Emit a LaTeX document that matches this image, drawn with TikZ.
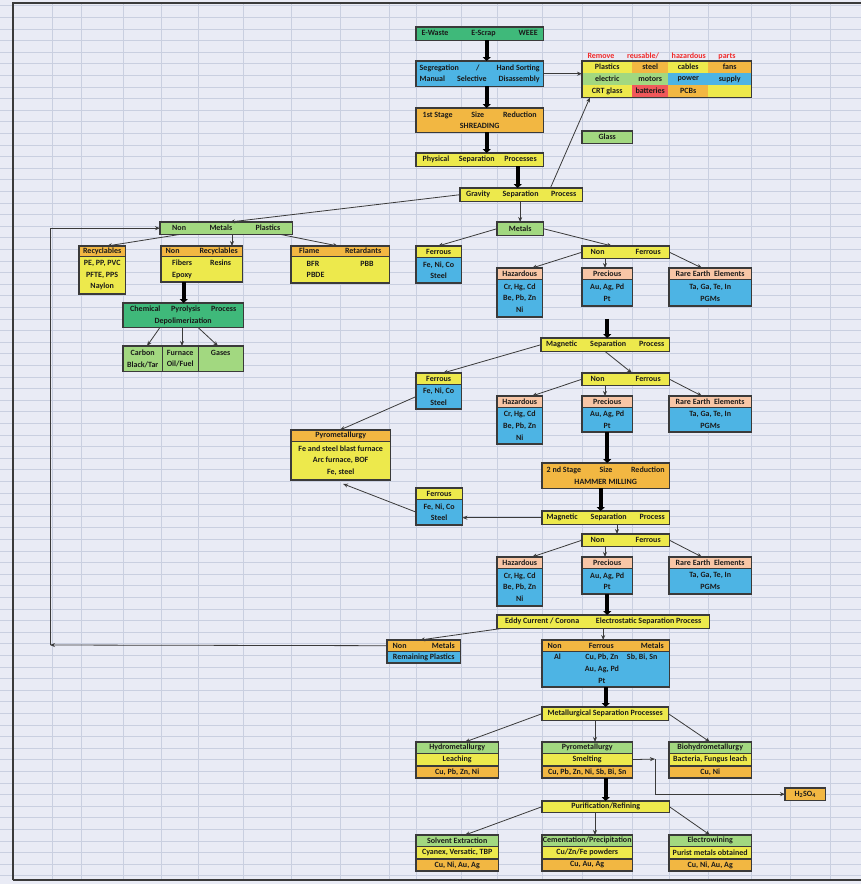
\documentclass[tikz,border=0pt]{standalone}
\usepackage{fontspec}
\setmainfont{Carlito}
\usetikzlibrary{positioning,arrows.meta}

\definecolor{sheet}{HTML}{E9EBF5}
\definecolor{gridc}{HTML}{C9CFE0}
\definecolor{edge}{HTML}{3A3A3A}
\definecolor{ink}{HTML}{1A1A1A}
\definecolor{cgreen}{HTML}{3FB97A}
\definecolor{lgreen}{HTML}{A2D880}
\definecolor{cblue}{HTML}{4DB4E4}
\definecolor{corange}{HTML}{F2B742}
\definecolor{cyellow}{HTML}{EDE94C}
\definecolor{cpeach}{HTML}{F8C6A6}
\definecolor{cred}{HTML}{F0585A}
\definecolor{redtxt}{HTML}{F02A2A}

\begin{document}
\begin{tikzpicture}[x=1pt, y=-1pt,
    cell/.style={draw=edge, line width=0.4pt, anchor=north west, inner sep=0pt, align=center,
                 text=ink, font=\fontsize{8}{11.7}\selectfont\bfseries},
    wh/.style 2 args={minimum width=#1pt, minimum height=#2pt},
    rim/.style={draw=edge, line width=1.6pt},
    link/.style={draw=edge, line width=0.8pt, -{Stealth[length=5pt, width=4pt]}},
    pipe/.style={line width=4pt, -{Triangle[length=4pt, width=8pt]}}]

    % sheet and cell grid
    \useasboundingbox (0,0) rectangle (861,884);
    \fill[sheet] (0,0) rectangle (861,884);
    \foreach \y in {5.7,17.3,...,884}
        \draw[gridc, line width=0.6pt] (0,\y) -- (861,\y);
    \foreach \x in {52,81,123,161,198,243,291,340,389,416,461,497,542,582,632,669,708,751,790,830}
        \draw[gridc, line width=0.8pt] (\x,3) -- (\x,880);
    \draw[edge, line width=2pt] (13,880) -- (13,3) -- (861,3);
    \draw[edge, line width=2pt] (13,880) -- (861,880);

    % input and pre-treatment
    \node[cell, wh={127}{13}, fill=cgreen] (ewaste) at (416,27) {\makebox[116pt]{E-Waste\hfill E-Scrap\hfill WEEE}};
    \node[cell, wh={127}{25}, fill=cblue] (segr) at (416,61)
        {\makebox[120pt]{Segregation\hfill /\hfill Hand Sorting}\\ \makebox[120pt]{Manual\hfill Selective\hfill Disassembly}};
    \node[cell, wh={127}{24}, fill=corange] (shred) at (416,108) {\makebox[114pt]{1st Stage\hfill Size\hfill Reduction}\\ SHREADING};
    \node[cell, wh={127}{13}, fill=cyellow] (phys) at (416,153) {\makebox[114pt]{Physical\hfill Separation\hfill Processes}};
    \node[cell, wh={122}{13}, fill=cyellow] (grav) at (460,188) {\makebox[110pt]{Gravity\hfill Separation\hfill Process}};

    % parts taken out by hand
    \node[anchor=west, text=redtxt, font=\fontsize{8}{9}\selectfont\bfseries] (rmhead) at (584,56)
        {\makebox[148pt]{Remove\hfill reusable/\hfill hazardous\hfill parts}};
    \foreach \x/\w/\t/\f [count=\c] in {582/50/Plastics/cyellow, 632/36/steel/corange, 668/40/cables/cyellow, 708/43/fans/corange}
        \node[cell, draw=none, fill=\f, wh={\w}{12}] (rmA\c) at (\x,61) {\t};
    \foreach \x/\w/\t/\f [count=\c] in {582/50/electric/lgreen, 632/36/motors/lgreen, 668/40/power/cblue, 708/43/supply/cblue}
        \node[cell, draw=none, fill=\f, wh={\w}{12}] (rmB\c) at (\x,73) {\t};
    \foreach \x/\w/\t/\f [count=\c] in {582/50/CRT glass/cyellow, 632/36/batteries/cred, 668/40/PCBs/corange, 708/43/{}/cyellow}
        \node[cell, draw=none, fill=\f, wh={\w}{12}] (rmC\c) at (\x,85) {\t};
    \node[cell, wh={50}{12}, fill=lgreen] (glass) at (582,131) {Glass};

    % non metals branch
    \node[cell, wh={132}{12}, fill=lgreen] (nmp) at (160,222) {\makebox[108pt]{Non\hfill Metals\hfill Plastics}};
    \node[cell, wh={46}{10}, fill=corange] (recyc) at (79,246) {Recyclables};
    \node[cell, wh={46}{37}, fill=cyellow] (recycb) at (recyc.south west) {PE, PP, PVC\\PFTE, PPS\\Naylon};
    \node[cell, wh={81}{10}, fill=corange] (nonrec) at (161,246) {\makebox[72pt]{Non\hfill Recyclables}};
    \node[cell, wh={81}{25}, fill=cyellow] (nonrecb) at (nonrec.south west)
        {\begin{tabular}{@{}l@{\hspace{18pt}}l@{}}Fibers & Resins\\ Epoxy & \end{tabular}};
    \node[cell, wh={98}{10}, fill=corange] (flame) at (291,246) {\makebox[82pt]{Flame\hfill Retardants}};
    \node[cell, wh={98}{26}, fill=cyellow] (flameb) at (flame.south west)
        {\begin{tabular}{@{}l@{\hspace{36pt}}l@{}}BFR & PBB\\ PBDE & \end{tabular}};
    \node[cell, wh={120}{24}, fill=cgreen] (pyrol) at (123,303)
        {\makebox[106pt]{Chemical\hfill Pyrolysis\hfill Process}\\ Depolimerization};
    \node[cell, wh={39}{25}, fill=lgreen] (carbon) at (123,346) {Carbon\\Black/Tar};
    \node[cell, wh={36}{25}, fill=lgreen] (furnace) at (162,346) {Furnace\\Oil/Fuel};
    \node[cell, wh={45}{25}, fill=lgreen] (gases) at (198,346) {Gases\\~};

    % metals, first pass
    \node[cell, wh={46}{13}, fill=lgreen] (metals) at (497,222) {Metals};
    \node[cell, wh={45}{11}, fill=cyellow] (ferr1) at (416,246) {Ferrous};
    \node[cell, wh={45}{25}, fill=cblue] (ferr1b) at (ferr1.south west) {Fe, Ni, Co\\Steel};
    \node[cell, wh={87}{12}, fill=cyellow] (nonfer1) at (582,246) {\makebox[70pt]{Non\hfill Ferrous}};
    \node[cell, wh={45}{11}, fill=cpeach] (haz1) at (497,268) {Hazardous};
    \node[cell, wh={45}{37}, fill=cblue] (haz1b) at (haz1.south west) {Cr, Hg, Cd\\Be, Pb, Zn\\Ni};
    \node[cell, wh={50}{11}, fill=cpeach] (prec1) at (582,268) {Precious};
    \node[cell, wh={50}{26}, fill=cblue] (prec1b) at (prec1.south west) {Au, Ag, Pd\\Pt};
    \node[cell, wh={82}{11}, fill=cpeach] (rare1) at (669,268) {Rare Earth\ \ Elements};
    \node[cell, wh={82}{26}, fill=cblue] (rare1b) at (rare1.south west) {Ta, Ga, Te, In\\PGMs};

    % magnetic separation, first pass
    \node[cell, wh={128}{13}, fill=cyellow] (mag1) at (541,338) {\makebox[118pt]{Magnetic\hfill Separation\hfill Process}};
    \node[cell, wh={45}{11}, fill=cyellow] (ferr2) at (416,373) {Ferrous};
    \node[cell, wh={45}{24}, fill=cblue] (ferr2b) at (ferr2.south west) {Fe, Ni, Co\\Steel};
    \node[cell, wh={87}{12}, fill=cyellow] (nonfer2) at (582,373) {\makebox[70pt]{Non\hfill Ferrous}};
    \node[cell, wh={45}{11}, fill=cpeach] (haz2) at (497,396) {Hazardous};
    \node[cell, wh={45}{36}, fill=cblue] (haz2b) at (haz2.south west) {Cr, Hg, Cd\\Be, Pb, Zn\\Ni};
    \node[cell, wh={50}{11}, fill=cpeach] (prec2) at (582,396) {Precious};
    \node[cell, wh={50}{24}, fill=cblue] (prec2b) at (prec2.south west) {Au, Ag, Pd\\Pt};
    \node[cell, wh={82}{11}, fill=cpeach] (rare2) at (669,396) {Rare Earth\ \ Elements};
    \node[cell, wh={82}{24}, fill=cblue] (rare2b) at (rare2.south west) {Ta, Ga, Te, In\\PGMs};
    \node[cell, wh={99}{11}, fill=corange] (pyro1) at (291,430) {Pyrometallurgy};
    \node[cell, wh={99}{38}, fill=cyellow] (pyro1b) at (pyro1.south west)
        {Fe and steel blast furnace\\Arc furnace, BOF\\Fe, steel};

    % second size reduction and magnetic pass
    \node[cell, wh={127}{25}, fill=corange] (hammer) at (542,463)
        {\makebox[118pt]{2 nd Stage\hfill Size\hfill Reduction}\\ HAMMER MILLING};
    \node[cell, wh={127}{13}, fill=cyellow] (mag2) at (542,511) {\makebox[118pt]{Magnetic\hfill Separation\hfill Process}};
    \node[cell, wh={46}{11}, fill=cyellow] (ferr3) at (416,488) {Ferrous};
    \node[cell, wh={46}{25}, fill=cblue] (ferr3b) at (ferr3.south west) {Fe, Ni, Co\\Steel};
    \node[cell, wh={87}{12}, fill=cyellow] (nonfer3) at (582,534) {\makebox[70pt]{Non\hfill Ferrous}};
    \node[cell, wh={45}{11}, fill=cpeach] (haz3) at (497,557) {Hazardous};
    \node[cell, wh={45}{37}, fill=cblue] (haz3b) at (haz3.south west) {Cr, Hg, Cd\\Be, Pb, Zn\\Ni};
    \node[cell, wh={50}{11}, fill=cpeach] (prec3) at (582,557) {Precious};
    \node[cell, wh={50}{25}, fill=cblue] (prec3b) at (prec3.south west) {Au, Ag, Pd\\Pt};
    \node[cell, wh={82}{11}, fill=cpeach] (rare3) at (669,557) {Rare Earth\ \ Elements};
    \node[cell, wh={82}{25}, fill=cblue] (rare3b) at (rare3.south west) {Ta, Ga, Te, In\\PGMs};

    % eddy current stage
    \node[cell, wh={212}{13}, fill=cyellow] (eddy) at (497,615)
        {\makebox[196pt]{Eddy Current / Corona\hfill Electrostatic Separation Process}};
    \node[cell, wh={73}{11}, fill=corange] (nmrem) at (387,640) {\makebox[62pt]{Non\hfill Metals}};
    \node[cell, wh={73}{11}, fill=cblue] (nmremb) at (nmrem.south west) {Remaining Plastics};
    \node[cell, wh={127}{11}, fill=corange] (nfm) at (542,640) {\makebox[116pt]{Non\hfill Ferrous\hfill Metals}};
    \node[cell, wh={127}{34}, fill=cblue] (nfmb) at (nfm.south west)
        {\begin{tabular}{@{}l@{\hspace{24pt}}c@{\hspace{8pt}}c@{}}Al & Cu, Pb, Zn & Sb, Bi, Sn\\ & Au, Ag, Pd & \\ & Pt & \end{tabular}};

    % metallurgical routes
    \node[cell, wh={126}{13}, fill=cyellow] (metsep) at (542,707) {Metallurgical Separation Processes};
    \node[cell, wh={82}{11}, fill=lgreen] (hydro) at (416,742) {Hydrometallurgy};
    \node[cell, wh={82}{12}, fill=cyellow] (hydrob) at (hydro.south west) {Leaching};
    \node[cell, wh={82}{12}, fill=corange] (hydroc) at (hydrob.south west) {Cu, Pb, Zn, Ni};
    \node[cell, wh={90}{11}, fill=lgreen] (pyro2) at (542,742) {Pyrometallurgy};
    \node[cell, wh={90}{12}, fill=cyellow] (pyro2b) at (pyro2.south west) {Smelting};
    \node[cell, wh={90}{12}, fill=corange] (pyro2c) at (pyro2b.south west) {Cu, Pb, Zn, Ni, Sb, Bi, Sn};
    \node[cell, wh={82}{11}, fill=lgreen] (bio) at (669,742) {Biohydrometallurgy};
    \node[cell, wh={82}{12}, fill=cyellow] (biob) at (bio.south west) {Bacteria, Fungus leach};
    \node[cell, wh={82}{12}, fill=corange] (bioc) at (biob.south west) {Cu, Ni};
    \node[cell, wh={40}{12}, fill=corange] (h2so4) at (785,788) {H\textsubscript{2}SO\textsubscript{4}};

    % refining
    \node[cell, wh={127}{11}, fill=cyellow] (purif) at (542,801) {Purification/Refining};
    \node[cell, wh={82}{11}, fill=lgreen] (solv) at (416,835) {Solvent Extraction};
    \node[cell, wh={82}{12}, fill=cyellow] (solvb) at (solv.south west) {Cyanex, Versatic, TBP};
    \node[cell, wh={82}{12}, fill=corange] (solvc) at (solvb.south west) {Cu, Ni, Au, Ag};
    \node[cell, wh={90}{11}, fill=lgreen] (cement) at (542,835) {Cementation/Precipitation};
    \node[cell, wh={90}{12}, fill=cyellow] (cementb) at (cement.south west) {Cu/Zn/Fe powders};
    \node[cell, wh={90}{12}, fill=corange] (cementc) at (cementb.south west) {Cu, Au, Ag};
    \node[cell, wh={82}{11}, fill=lgreen] (elec) at (669,835) {Electrowining};
    \node[cell, wh={82}{12}, fill=cyellow] (elecb) at (elec.south west) {Purist metals obtained};
    \node[cell, wh={82}{12}, fill=corange] (elecc) at (elecb.south west) {Cu, Ni, Au, Ag};

    % heavy outlines
    \foreach \a/\b in {ewaste/ewaste, segr/segr, shred/shred, phys/phys, grav/grav, rmA1/rmC4, glass/glass,
                       nmp/nmp, recyc/recycb, nonrec/nonrecb, flame/flameb, pyrol/pyrol, carbon/gases,
                       metals/metals, ferr1/ferr1b, nonfer1/nonfer1, haz1/haz1b, prec1/prec1b, rare1/rare1b,
                       mag1/mag1, ferr2/ferr2b, nonfer2/nonfer2, haz2/haz2b, prec2/prec2b, rare2/rare2b, pyro1/pyro1b,
                       hammer/hammer, mag2/mag2, ferr3/ferr3b, nonfer3/nonfer3, haz3/haz3b, prec3/prec3b, rare3/rare3b,
                       eddy/eddy, nmrem/nmremb, nfm/nfmb, metsep/metsep, hydro/hydroc, pyro2/pyro2c, bio/bioc,
                       h2so4/h2so4, purif/purif, solv/solvc, cement/cementc, elec/elecc}
        \draw[rim] (\a.north west) rectangle (\b.south east);

    % main flow
    \draw[pipe] ([xshift=7pt]ewaste.south) -- ([xshift=7pt]segr.north);
    \draw[pipe] ([xshift=7pt]segr.south) -- ([xshift=7pt]shred.north);
    \draw[pipe] ([xshift=7pt]shred.south) -- ([xshift=7pt]phys.north);
    \draw[pipe] ([xshift=38pt]phys.south) -- ([xshift=38pt]phys.south |- grav.north);
    \draw[pipe] ([xshift=-18pt]nonrecb.south) -- ([xshift=-18pt]nonrecb.south |- pyrol.north);
    \draw[pipe] ([yshift=-13pt]prec1b.south) -- (prec1b.south |- mag1.north);
    \draw[pipe] (prec2b.south) -- (prec2b.south |- hammer.north);
    \draw[pipe] ([xshift=-5pt]hammer.south) -- ([xshift=-5pt]hammer.south |- mag2.north);
    \draw[pipe] (prec3b.south) -- (prec3b.south |- eddy.north);
    \draw[pipe] (nfmb.south) -- (nfmb.south |- metsep.north);
    \draw[pipe] (purif.north |- pyro2c.south) -- (purif.north);

    % branches
    \draw[link] (segr.east) -- (segr.east -| rmA1.west);
    \draw[link] ([xshift=-32pt]grav.north east) -- ([xshift=8pt]rmC1.south west);
    \draw[link] (grav.west) -- ([xshift=70pt]nmp.north west);
    \draw[link] ([xshift=20pt]nmp.south west) -- ([xshift=28pt]recyc.north west);
    \draw[link] ([xshift=72pt]nmp.south west) -- ([xshift=71pt]nonrec.north west);
    \draw[link] ([xshift=-12pt]nmp.south east) -- ([xshift=47pt]flame.north west);
    \draw[link] ([xshift=37pt]pyrol.south west) -- ([xshift=24pt]carbon.north west);
    \draw[link] ([xshift=59pt]pyrol.south west) -- ([xshift=20pt]furnace.north west);
    \draw[link] ([xshift=75pt]pyrol.south west) -- ([xshift=20pt]gases.north west);

    \draw[link] (metals.north |- grav.south) -- (metals.north);
    \draw[link] (metals.west) -- ([xshift=22pt]ferr1.north west);
    \draw[link] (metals.east) -- ([xshift=30pt]nonfer1.north west);
    \draw[link] (nonfer1.west) -- ([xshift=35pt]haz1.north west);
    \draw[link] ([xshift=23pt]nonfer1.south west) -- ([xshift=23pt]prec1.north west);
    \draw[link] (nonfer1.east) -- ([xshift=33pt]rare1.north west);

    \draw[link] (mag1.west) -- ([xshift=27pt]ferr2.north west);
    \draw[link] ([xshift=64pt]mag1.south west) -- ([xshift=50pt]nonfer2.north west);
    \draw[link] (nonfer2.west) -- ([xshift=35pt]haz2.north west);
    \draw[link] ([xshift=23pt]nonfer2.south west) -- ([xshift=23pt]prec2.north west);
    \draw[link] (nonfer2.east) -- ([xshift=33pt]rare2.north west);
    \draw[link] (ferr2b.west) -- ([xshift=49pt]pyro1.north west);

    \draw[link] (mag2.west) -- (mag2.west -| ferr3b.east);
    \draw[link] (ferr3b.west) -- ([xshift=52pt, yshift=-4pt]pyro1b.south west);
    \draw[link] ([xshift=75pt]mag2.south west) -- ([xshift=35pt]nonfer3.north west);
    \draw[link] (nonfer3.west) -- ([xshift=35pt]haz3.north west);
    \draw[link] ([xshift=23pt]nonfer3.south west) -- ([xshift=23pt]prec3.north west);
    \draw[link] (nonfer3.east) -- ([xshift=33pt]rare3.north west);

    \draw[link] ([xshift=5pt]eddy.south west) -- ([xshift=33pt]nmrem.north west);
    \draw[link] (eddy.south) -- (eddy.south |- nfm.north);
    \coordinate (loopbot) at (50,645);
    \draw[link] (nmrem.west) -- (loopbot);
    \draw[link] (loopbot) |- (nmp.west);

    \draw[link] (metsep.west) -- ([xshift=49pt]hydro.north west);
    \draw[link] ([xshift=53pt]metsep.south west) -- ([xshift=53pt]pyro2.north west);
    \draw[link] (metsep.east) -- ([xshift=41pt]bio.north west);
    \coordinate (bend) at (655,759);
    \draw[link] (pyro2b.east) -- (bend);
    \draw[link] (bend) |- (h2so4.west);

    \draw[link] (purif.west) -- ([xshift=49pt]solv.north west);
    \draw[link] ([xshift=53pt]purif.south west) -- ([xshift=53pt]cement.north west);
    \draw[link] (purif.east) -- ([xshift=41pt]elec.north west);
\end{tikzpicture}
\end{document}
